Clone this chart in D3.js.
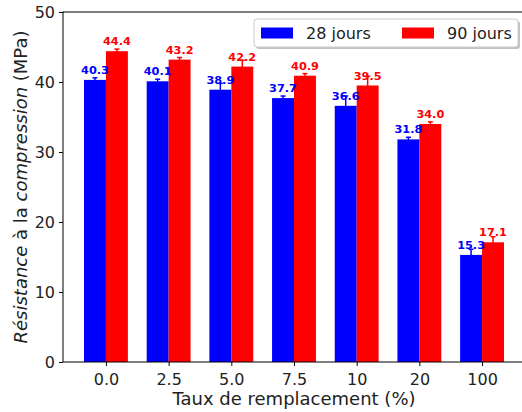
<!DOCTYPE html>
<html><head><meta charset="utf-8">
<script src="https://cdn.jsdelivr.net/npm/d3@7"></script>
<style>body{margin:0;background:#fff}svg{display:block;font-family:"DejaVu Sans",sans-serif}</style>
</head><body><svg id="c" width="522" height="412"></svg>
<script>
const categories = ["0.0","2.5","5.0","7.5","10","20","100"];
const seriesNames = ["28 jours","90 jours"];
const values28 = [40.3,40.1,38.9,37.7,36.6,31.8,15.3];
const values90 = [44.4,43.2,42.2,40.9,39.5,34.0,17.1];
const err28 = [0.3,0.3,0.9,0.3,1.4,0.3,0.8];
const err90 = [0.3,0.3,0.9,0.3,1.3,0.3,0.8];
const yTicks = [0,10,20,30,40,50];
const colors = ["#0000ff","#ff0000"];

(function(){
const svg = d3.select("#c");
const pl = 63, pr = 525, pt = 12, pb = 362;
const barW = 0.35;
const x = d3.scaleLinear().domain([-0.685, 6.685]).range([pl, pr]);
const y = d3.scaleLinear().domain([0, 50]).range([pb, pt]);

const series = [
  {name: seriesNames[0], vals: values28, errs: err28, color: colors[0], off: -barW/2},
  {name: seriesNames[1], vals: values90, errs: err90, color: colors[1], off: barW/2}
];

const g = svg.append("g");
series.forEach(s => {
  s.vals.forEach((v, i) => {
    const cx = i + s.off;
    g.append("rect")
      .attr("x", x(cx - barW/2)).attr("width", x(cx + barW/2) - x(cx - barW/2))
      .attr("y", y(v)).attr("height", y(0) - y(v))
      .attr("fill", s.color);
  });
});
series.forEach(s => {
  s.vals.forEach((v, i) => {
    const cx = x(i + s.off), e = s.errs[i];
    g.append("line").attr("x1", cx).attr("x2", cx).attr("y1", y(v - e)).attr("y2", y(v + e))
      .attr("stroke", s.color).attr("stroke-width", 1.5);
    [v - e, v + e].forEach(t => g.append("line").attr("x1", cx - 2.5).attr("x2", cx + 2.5)
      .attr("y1", y(t)).attr("y2", y(t)).attr("stroke", s.color).attr("stroke-width", 1.5));
    g.append("text").attr("x", cx).attr("y", y(v) - 6).attr("text-anchor", "middle")
      .attr("font-size", 11.3).attr("font-weight", "bold").attr("fill", s.color)
      .text(v.toFixed(1));
  });
});

// axes
const yAxis = d3.axisLeft(y).tickValues(yTicks).tickSize(4).tickPadding(4).tickFormat(d3.format("d"));
const ya = svg.append("g").attr("transform", `translate(${pl},0)`).call(yAxis);
const xAxis = d3.axisBottom(x).tickValues(d3.range(categories.length)).tickSize(4).tickPadding(7.5)
  .tickFormat(i => categories[i]);
const xa = svg.append("g").attr("transform", `translate(0,${pb})`).call(xAxis);
[ya, xa].forEach(a => {
  a.select(".domain").remove();
  a.selectAll("line").attr("stroke", "#000").attr("stroke-width", 1);
  a.selectAll("text").attr("font-size", 16).attr("fill", "#222").attr("font-family", "DejaVu Sans");
});
// spines
svg.append("rect").attr("x", pl).attr("y", pt).attr("width", pr - pl).attr("height", pb - pt)
  .attr("fill", "none").attr("stroke", "#000").attr("stroke-width", 1);

// axis labels
svg.append("text").attr("x", (pl + pr) / 2).attr("y", 405).attr("text-anchor", "middle")
  .attr("font-size", 18).attr("fill", "#222").text("Taux de remplacement (%)");
const yl = svg.append("text").attr("transform", `translate(26.5,${(pt + pb) / 2}) rotate(-90)`)
  .attr("text-anchor", "middle").attr("font-size", 18).attr("fill", "#222");
yl.append("tspan").attr("font-style", "italic").text("Résistance");
yl.append("tspan").text(" à la ");
yl.append("tspan").attr("font-style", "italic").text("compression");
yl.append("tspan").text(" (MPa)");

// legend
const lg = svg.append("g");
lg.append("rect").attr("x", 256).attr("y", 21).attr("width", 264).attr("height", 28).attr("rx", 3)
  .attr("fill", "#999").attr("opacity", 0.6);
lg.append("rect").attr("x", 254).attr("y", 19).attr("width", 264).attr("height", 28).attr("rx", 3)
  .attr("fill", "#fff").attr("stroke", "#ccc").attr("stroke-width", 1);
const legX = [261, 402];
series.forEach((s, k) => {
  lg.append("rect").attr("x", legX[k]).attr("y", 27.5).attr("width", 32).attr("height", 11).attr("fill", s.color);
  lg.append("text").attr("x", legX[k] + 45).attr("y", 39).attr("font-size", 16).attr("fill", "#222").text(s.name);
});
})();
</script></body></html>
